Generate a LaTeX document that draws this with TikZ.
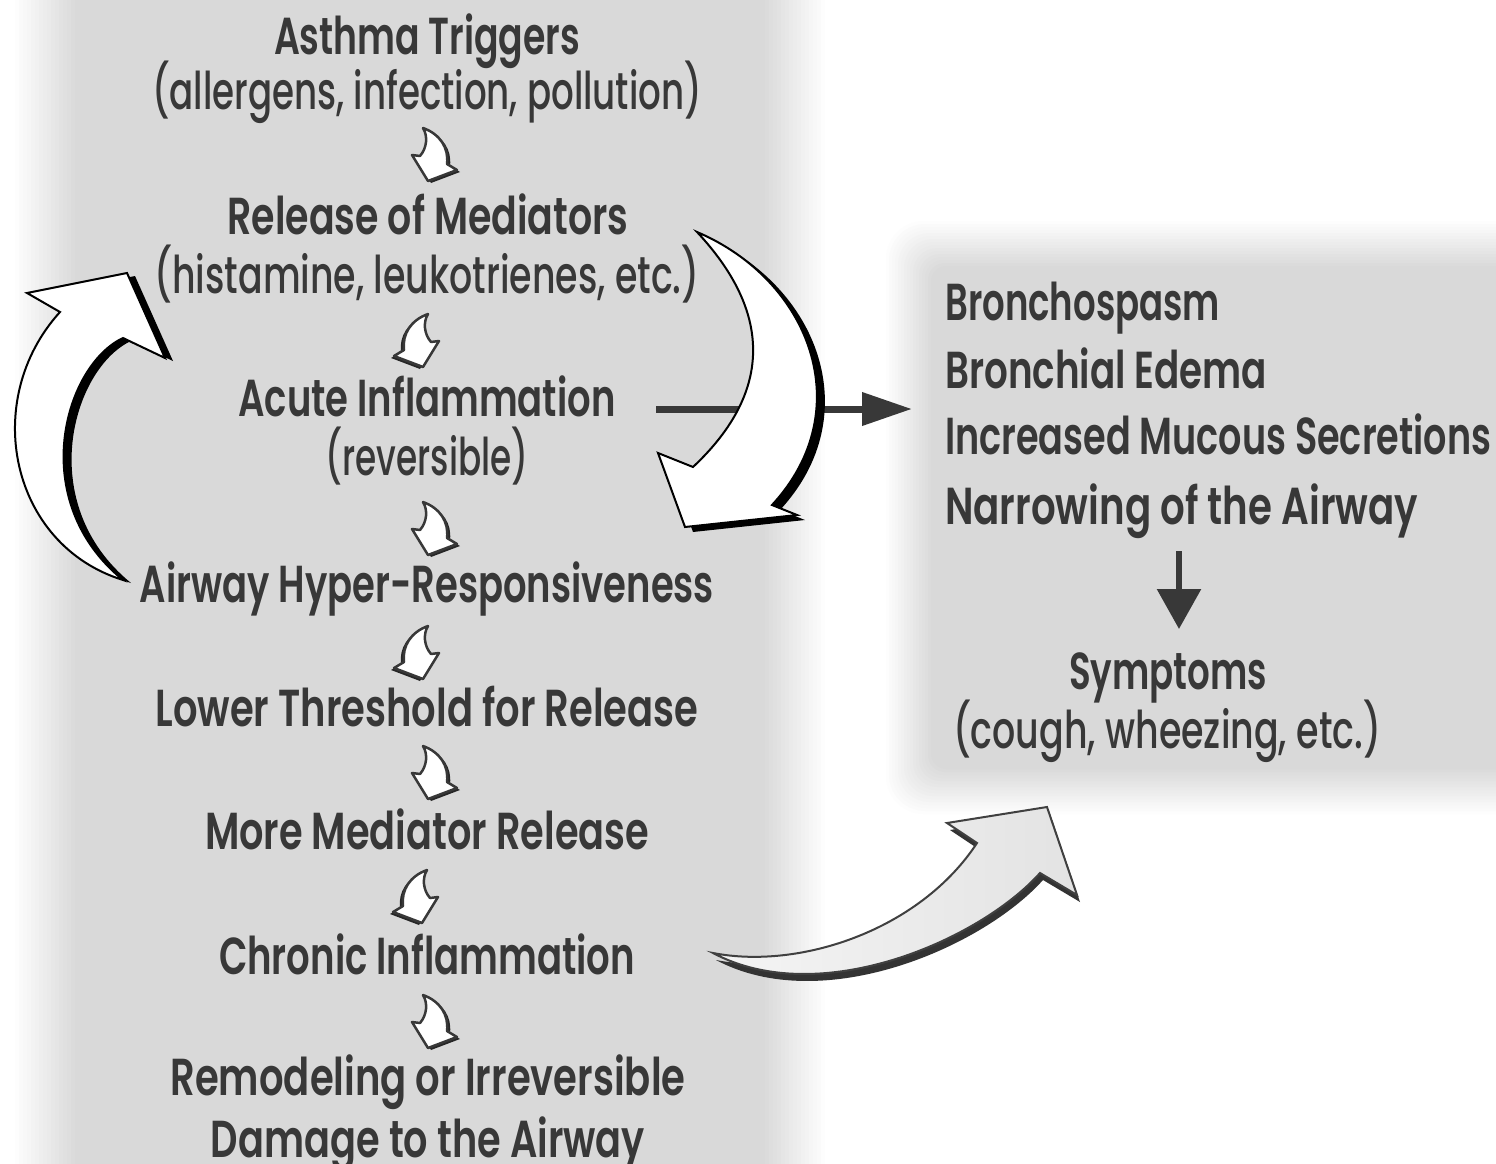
\documentclass[tikz,border=0pt]{standalone}
\usepackage{fontspec}
\setmainfont{Poppins}[BoldFont={* SemiBold}]
\newfontfamily\medfont{Poppins}[UprightFont={* Medium}]
\usepackage{graphicx}
\usetikzlibrary{arrows.meta}
\definecolor{txt}{HTML}{383838}
\newcommand{\fitw}[2]{\resizebox{#1pt}{\height}{#2}}
\begin{document}
\begin{tikzpicture}[x=1pt,y=-1pt,
  hd/.style={font=\fontsize{52}{60}\selectfont\bfseries, text=txt, inner sep=0pt, anchor=base},
  sub/.style={font=\fontsize{52}{60}\selectfont\medfont, text=txt, inner sep=0pt, anchor=base},
  rhd/.style={hd, anchor=base west},
  bigarrow/.style={fill=white, draw=black, line width=2pt, line join=miter},
  smallarr/.pic={
    \fill[black!85, shift={(3,2)}] (-9,-26) .. controls (8,-20) and (17,-6) .. (15,10) -- (25,16) -- (-4,27) -- (-20,1) -- (-12,2) .. controls (-5,-6) and (-4,-18) .. (-9,-26) -- cycle;
    \filldraw[fill=white, draw=txt, line width=2.5pt, line join=round] (-9,-26) .. controls (8,-20) and (17,-6) .. (15,10) -- (25,16) -- (-4,27) -- (-20,1) -- (-12,2) .. controls (-5,-6) and (-4,-18) .. (-9,-26) -- cycle;
  }]
\fill[white] (0,0) rectangle (1496,1164);
\useasboundingbox (0,0) rectangle (1496,1164);
% left panel with soft edges
\foreach \k in {0,...,15}{
  \pgfmathsetmacro\d{30-4*\k}
  \pgfmathsetmacro\c{15*(\k+1)/16}
  \fill[black!\c] (45-\d,-60) rectangle (795+\d,1224);
}
% right box with soft edges
\foreach \k in {0,...,15}{
  \pgfmathsetmacro\d{24-3*\k}
  \pgfmathsetmacro\c{15*(\k+1)/16}
  \pgfmathsetmacro\r{14+(\d+24)/2}
  \fill[black!\c, rounded corners=\r pt] (910-\d,245-\d) rectangle (1580,790+\d);
}
% left column text
\node[hd]  (n1)  at (427,54)   {\fitw{306}{Asthma Triggers}};
\node[sub] (n1s) at (427,109)  {\fitw{550}{(allergens, infection, pollution)}};
\node[hd]  (n2)  at (428,234)  {\fitw{401}{Release of Mediators}};
\node[sub] (n2s) at (427,293)  {\fitw{545}{(histamine, leukotrienes, etc.)}};
\node[hd]  (n3)  at (427,416)  {\fitw{377}{Acute Inflammation}};
\node[sub] (n3s) at (427,475)  {\fitw{203}{(reversible)}};
\node[hd]  (n4)  at (427,602)  {\fitw{574}{Airway Hyper-Responsiveness}};
\node[hd]  (n5)  at (427,726)  {\fitw{543}{Lower Threshold for Release}};
\node[hd]  (n6)  at (427,849)  {\fitw{444}{More Mediator Release}};
\node[hd]  (n7)  at (427,974)  {\fitw{416}{Chronic Inflammation}};
\node[hd]  (n8)  at (428,1095) {\fitw{515}{Remodeling or Irreversible}};
\node[hd]  (n8b) at (428,1157) {\fitw{434}{Damage to the Airway}};
% right box text
\node[rhd] (r1) at (945,320) {\fitw{275}{Bronchospasm}};
\node[rhd] (r2) at (945,388) {\fitw{322}{Bronchial Edema}};
\node[rhd] (r3) at (945,454) {\fitw{546}{Increased Mucous Secretions}};
\node[rhd] (r4) at (945,524) {\fitw{473}{Narrowing of the Airway}};
\node[hd]  (sym) at (1168,689) {\fitw{198}{Symptoms}};
\node[sub] (cgh) at (1167,748) {\fitw{428}{(cough, wheezing, etc.)}};
% straight arrows
\coordinate (h1) at (656,409);
\coordinate (h2) at (912,409);
\draw[txt, line width=7pt, -{Triangle[length=50pt,width=32pt]}] (h1) -- (h2);
\coordinate (v1) at (1179,551);
\coordinate (v2) at (1179,629);
\draw[txt, line width=6pt, -{Triangle[length=40pt,width=43pt]}] (v1) -- (v2);
% small arrows between steps
\pic at (432,154) {smallarr};
\pic[xscale=-1] at (419,340) {smallarr};
\pic at (432,528) {smallarr};
\pic[xscale=-1] at (419,652) {smallarr};
\pic at (432,772) {smallarr};
\pic[xscale=-1] at (418,896) {smallarr};
\pic at (432,1021) {smallarr};
% left big arrow (up)
\fill[black, shift={(8,3)}] (123,580) .. controls (10,545) and (-20,400) .. (60,312) -- (27,293) -- (127,273) -- (165,358) -- (123,338) .. controls (65,365) and (25,500) .. (123,580) -- cycle;
\path[bigarrow] (123,580) .. controls (10,545) and (-20,400) .. (60,312) -- (27,293) -- (127,273) -- (165,358) -- (123,338) .. controls (65,365) and (25,500) .. (123,580) -- cycle;
% right big arrow (down)
\fill[black, shift={(8,5)}] (697,232) .. controls (810,280) and (860,410) .. (772,505) -- (797,515) -- (685,527) -- (658,453) -- (693,467) .. controls (775,390) and (770,310) .. (697,232) -- cycle;
\path[bigarrow] (697,232) .. controls (810,280) and (860,410) .. (772,505) -- (797,515) -- (685,527) -- (658,453) -- (693,467) .. controls (775,390) and (770,310) .. (697,232) -- cycle;
% bottom big arrow
\fill[black!80, shift={(3,7)}] (713,953) .. controls (800,970) and (920,930) .. (977,843) -- (947,823) -- (1047,807) -- (1077,895) -- (1040,873) .. controls (980,940) and (820,1010) .. (713,953) -- cycle;
\path[left color=black!4, right color=black!11, draw=black!75, line width=2pt, line join=miter] (713,953) .. controls (800,970) and (920,930) .. (977,843) -- (947,823) -- (1047,807) -- (1077,895) -- (1040,873) .. controls (980,940) and (820,1010) .. (713,953) -- cycle;
\end{tikzpicture}
\end{document}
